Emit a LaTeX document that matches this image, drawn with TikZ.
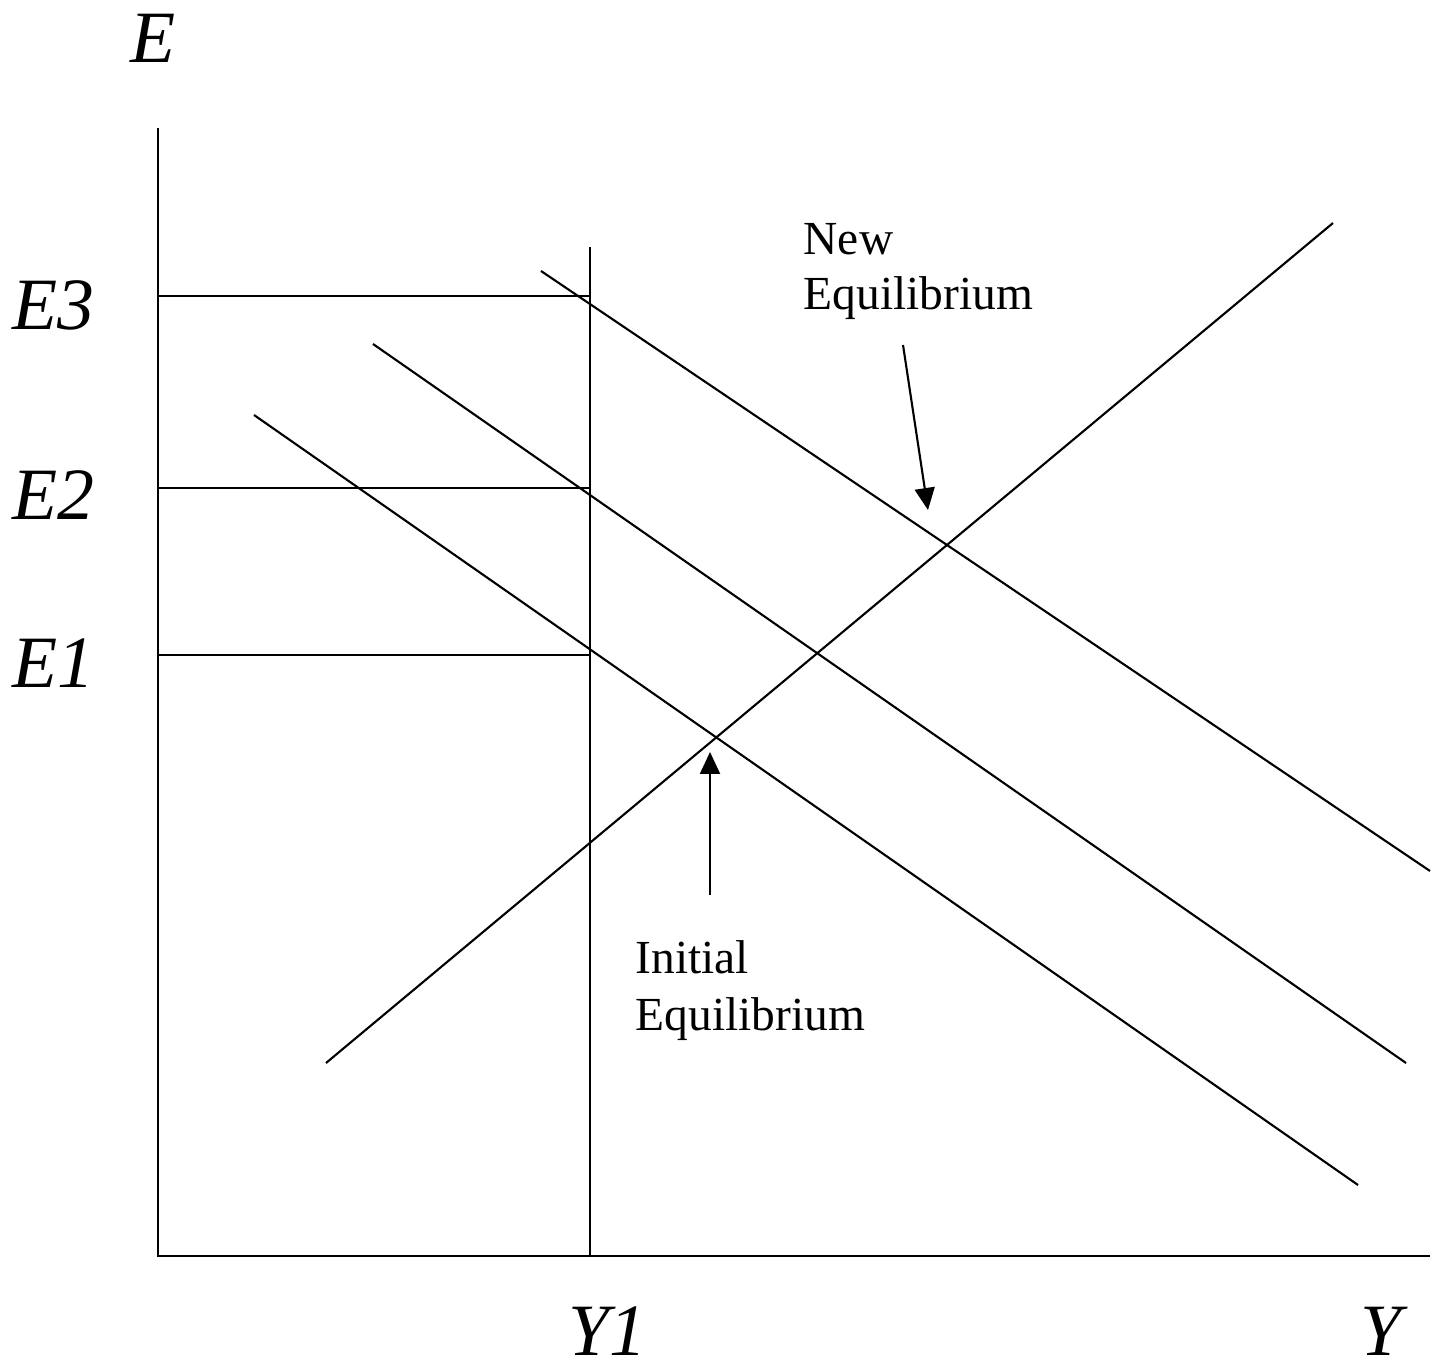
\documentclass[tikz,border=0pt]{standalone}
\usepackage{fontspec}
\setmainfont{Liberation Serif}
\usetikzlibrary{arrows.meta,positioning}
\tikzset{
  ax/.style={line width=0.6pt},
  gorbe/.style={line width=0.6pt},
  nyil/.style={line width=0.6pt,-{Triangle[length=2.2mm,width=2mm]}},
  cimke/.style={anchor=base west,inner sep=0pt,font=\fontsize{21}{24}\selectfont\itshape},
  megj/.style={anchor=base west,inner sep=0pt,font=\fontsize{13.5}{15}\selectfont},
}
\begin{document}
\begin{tikzpicture}
  \useasboundingbox (0,0) rectangle (14.41,13.65);
  % axes
  \coordinate (O) at (1.58,1.09);
  \coordinate (ytop) at (1.58,12.37);
  \coordinate (xend) at (14.30,1.09);
  \draw[ax] (ytop) -- (O) -- (xend);
  % Y1 and the E levels
  \coordinate (y1lo) at (5.90,1.09);
  \coordinate (y1hi) at (5.90,11.18);
  \draw[gorbe] (y1lo) -- (y1hi);
  \foreach \n/\y in {three/10.69, two/8.77, one/7.10} {
    \coordinate (e\n) at (1.58,\y);
    \coordinate (f\n) at (5.90,\y);
    \draw[gorbe] (e\n) -- (f\n);
  }
  % 45 degree line
  \coordinate (up1) at (3.26,3.02);
  \coordinate (up2) at (13.33,11.42);
  \draw[gorbe] (up1) -- (up2);
  % expenditure lines
  \foreach \n/\a/\b/\c/\d in {A/5.41/10.94/14.30/4.94,
                             B/3.73/10.21/14.06/3.02,
                             C/2.54/9.50/13.58/1.80} {
    \coordinate (\n s) at (\a,\b);
    \coordinate (\n e) at (\c,\d);
    \draw[gorbe] (\n s) -- (\n e);
  }
  % labels
  \node[cimke] (lblE) at (1.30,13.02) {E};
  \node[cimke] (lblEthree) at (0.12,10.35) {E3};
  \node[cimke] (lblEtwo) at (0.12,8.45) {E2};
  \node[cimke] (lblEone) at (0.12,6.77) {E1};
  \node[cimke] (lblYone) at (5.68,0.10) {Y1};
  \node[cimke] (lblY) at (13.60,0.10) {Y};
  % annotations
  \node[megj] (newA) at (8.03,11.10) {New};
  \node[megj] (newB) at (8.03,10.55) {Equilibrium};
  \node[megj] (iniA) at (6.35,3.92) {Initial};
  \node[megj] (iniB) at (6.35,3.35) {Equilibrium};
  \coordinate (n1) at (9.03,10.20);
  \coordinate (n2) at (9.28,8.55);
  \draw[nyil] (n1) -- (n2);
  \coordinate (i1) at (7.10,4.70);
  \coordinate (i2) at (7.10,6.13);
  \draw[nyil] (i1) -- (i2);
\end{tikzpicture}
\end{document}
